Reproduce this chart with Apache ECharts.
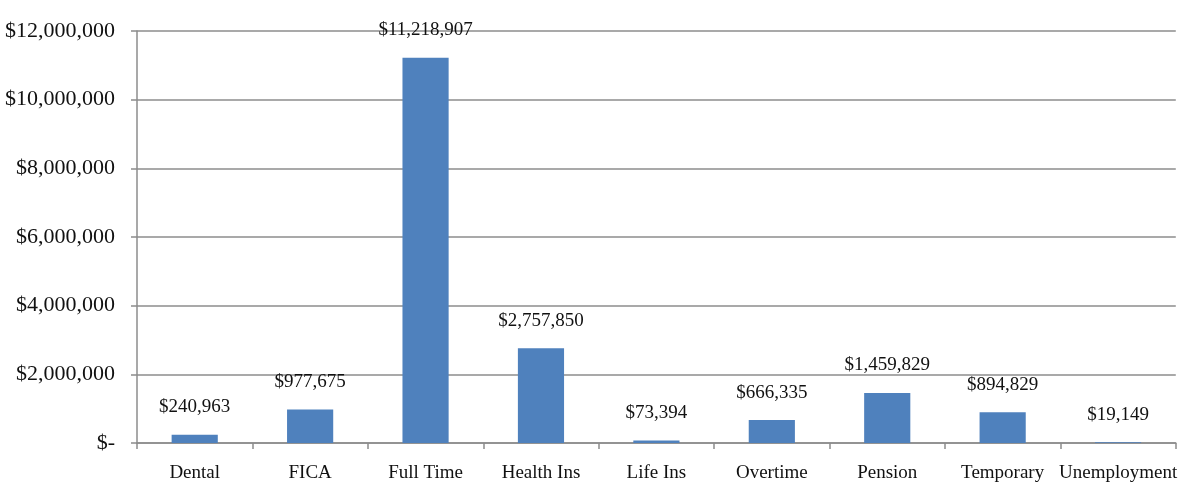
<!DOCTYPE html>
<html>
	<head>
		<meta charset="utf-8" />
		<title>Personnel Costs</title>
		<style>
			html, body { margin: 0; padding: 0; background: #fff; }
			#chart { width: 1180px; height: 496px; }
		</style>
	</head>
	<body>
		<div id="chart"></div>
		<script src="https://cdn.jsdelivr.net/npm/echarts@6/dist/echarts.min.js"></script>
		<script>
			// data
			var categories = ['Dental', 'FICA', 'Full Time', 'Health Ins', 'Life Ins', 'Overtime', 'Pension', 'Temporary', 'Unemployment'];
			var costs = [240963, 977675, 11218907, 2757850, 73394, 666335, 1459829, 894829, 19149];
			var yTicks = [0, 2000000, 4000000, 6000000, 8000000, 10000000, 12000000];

			function money(v) {
				if (v === 0) return '$-';
				return '$' + v.toLocaleString('en-US');
			}

			var chart = echarts.init(document.getElementById('chart'));
			var font = 'Liberation Serif';
			var option = {
				animation: false,
				grid: {
					left: 137,
					right: 1,
					top: 31,
					bottom: 53
				},
				xAxis: {
					type: 'category',
					data: categories,
					axisLine: { show: true, lineStyle: { color: '#8c8c8c', width: 1.5 } },
					axisTick: { show: true, length: 6, lineStyle: { color: '#8c8c8c', width: 1.5 } },
					axisLabel: {
						color: '#111',
						fontFamily: font,
						fontSize: 19,
						margin: 21,
						interval: 0
					}
				},
				yAxis: {
					type: 'value',
					min: yTicks[0],
					max: yTicks[yTicks.length - 1],
					interval: yTicks[1] - yTicks[0],
					axisLine: { show: true, lineStyle: { color: '#8c8c8c', width: 1.5 } },
					axisTick: { show: true, length: 6, lineStyle: { color: '#8c8c8c', width: 1.5 } },
					splitLine: { show: true, lineStyle: { color: '#8c8c8c', width: 1.5 } },
					axisLabel: {
						color: '#111',
						fontFamily: font,
						fontSize: 22,
						margin: 22,
						formatter: money
					}
				},
				series: [{
					type: 'bar',
					data: costs,
					barWidth: '40%',
					itemStyle: { color: '#4f81bd' },
					label: {
						show: true,
						position: 'top',
						distance: 18,
						color: '#111',
						fontFamily: font,
						fontSize: 19,
						formatter: function (p) { return money(p.value); }
					}
				}]
			};
			chart.setOption(option);
		</script>
	</body>
</html>
